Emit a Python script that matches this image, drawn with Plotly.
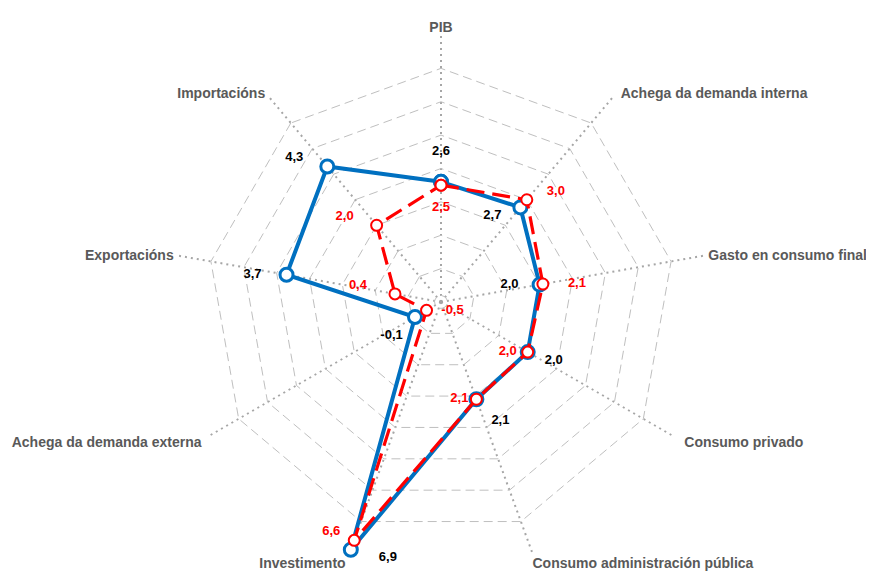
import plotly.graph_objects as go

categories = ["PIB", "Achega da demanda interna", "Gasto en consumo final",
              "Consumo privado", "Consumo administración pública", "Investimento",
              "Achega da demanda externa", "Exportacións", "Importacións"]
blue_values = [2.6, 2.7, 2.0, 2.0, 2.1, 6.9, -0.1, 3.7, 4.3]
red_values = [2.5, 3.0, 2.1, 2.0, 2.1, 6.6, -0.5, 0.4, 2.0]
radial_min, radial_max = -1, 7
radial_ticks = [-0.8, 0, 1, 2, 3, 4, 5, 6, 7]

# category label padding (style): (leading nbsp, trailing nbsp)
cat_pad = [(0, 0), (2, 0), (1, 0), (3, 0), (0, 0),
           (0, 1), (0, 2), (0, 1), (0, 1)]

# label placement (style): textposition, offset size, blank line before/after
blue_pos = ["top center", "middle left", "middle left", "middle right", "bottom right",
            "middle right", "bottom left", "middle left", "middle left"]
blue_off = [36.8, 28.8, 32, 25.6, 22.4, 43.2, 18, 38.4, 36.8]
blue_pad = ["", "pre", "", "pre", "", "pre", "", "", "post"]
red_pos = ["bottom center", "middle right", "middle right", "middle left", "middle left",
           "middle left", "middle right", "middle left", "middle left"]
red_off = [24, 30.4, 38.4, 16, 11.2, 20.8, 22, 43.2, 35.2]
red_pad = ["", "post", "", "", "", "post", "", "post", "post"]


def fmt(v, pad):
    s = f"{v:.1f}".replace(".", ",")
    if pad == "pre":
        return "<br>" + s
    if pad == "post":
        return s + "<br> "
    return s


def cat_label(name, pad):
    lead, trail = pad
    return "\u00a0" * lead + name + "\u00a0" * trail


def closed(lst):
    return list(lst) + [lst[0]]


def shift(vals):
    # polar radial axis starts at radial_min; plot distance from it
    return [v - radial_min for v in vals]


FONT = "Liberation Sans"
fig = go.Figure()


def add_series(vals, color, lw, dash, msize, mlw, txtcolor, pos, off, pad):
    fig.add_trace(go.Scatterpolar(
        r=closed(shift(vals)), theta=closed(categories),
        mode="lines+markers",
        line=dict(color=color, width=lw, dash=dash),
        marker=dict(symbol="circle", size=msize, color="white",
                    line=dict(color=color, width=mlw)),
        cliponaxis=False, showlegend=False, hoverinfo="skip",
    ))
    fig.add_trace(go.Scatterpolar(
        r=shift(vals), theta=categories,
        mode="markers+text",
        text=[fmt(v, p) for v, p in zip(vals, pad)],
        textposition=pos,
        textfont=dict(family=FONT, size=13, color=txtcolor, weight="bold"),
        marker=dict(size=off, color="rgba(0,0,0,0)", line=dict(width=0)),
        cliponaxis=False, showlegend=False, hoverinfo="skip",
    ))


add_series(blue_values, "#0070C0", 4, "solid", 13, 3, "black", blue_pos, blue_off, blue_pad)
add_series(red_values, "#FF0000", 3.2, "18px,8px", 11, 2, "#FF0000", red_pos, red_off, red_pad)

fig.update_layout(
    width=874, height=573,
    margin=dict(l=93, r=101, t=27, b=12),
    paper_bgcolor="white",
    font=dict(family=FONT),
    polar=dict(
        bgcolor="white",
        gridshape="linear",
        radialaxis=dict(range=[0, radial_max - radial_min],
                        tickvals=shift(radial_ticks), showticklabels=False,
                        ticks="", showline=False, gridcolor="#BFBFBF",
                        griddash="9px,5px", gridwidth=1.3),
        angularaxis=dict(direction="clockwise", rotation=90, showline=False,
                         gridcolor="#A6A6A6", griddash="2px,4px", gridwidth=2,
                         ticks="",
                         tickmode="array", tickvals=list(range(len(categories))),
                         ticktext=[cat_label(c, p) for c, p in zip(categories, cat_pad)],
                         tickfont=dict(family=FONT, size=14,
                                       color="#595959", weight="bold")),
    ),
)

fig.write_html("out.html")
